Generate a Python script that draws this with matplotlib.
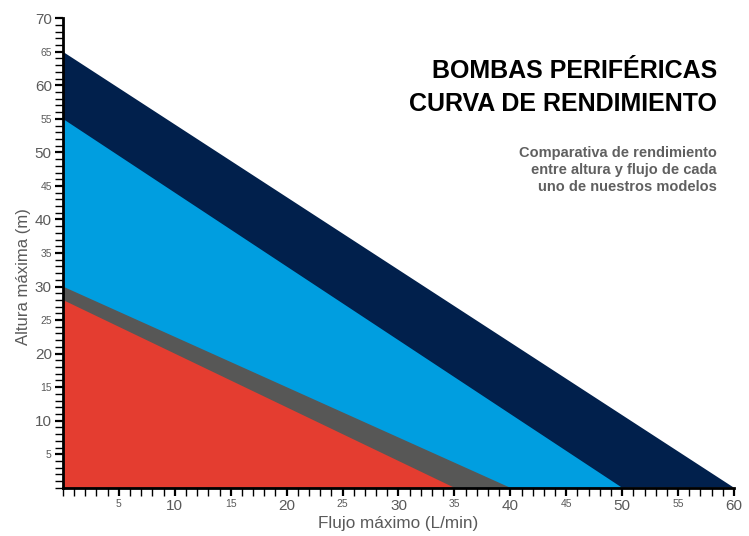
import matplotlib.pyplot as plt
from matplotlib.ticker import MultipleLocator

# Max flow (L/min) and max head (m) of each pump model, largest first
models = ["Modelo 4", "Modelo 3", "Modelo 2", "Modelo 1"]
max_flow = [60, 50, 40, 35]
max_head = [65, 55, 30, 28]
colors = ["#01204c", "#009ee0", "#575756", "#e43d30"]

x_ticks = list(range(5, 61, 5))
y_ticks = list(range(5, 71, 5))

plt.rcParams['font.family'] = ['Liberation Sans', 'DejaVu Sans']

fig = plt.figure(figsize=(7.49, 5.36), dpi=100)
ax = fig.add_axes([0.084, 0.09, 0.896, 0.876])

for flow, head, col in zip(max_flow, max_head, colors):
    ax.fill([0, flow, 0], [head, 0, 0], color=col, linewidth=0)

ax.set_xlim(0, 60)
ax.set_ylim(0, 70)

for side in ("top", "right"):
    ax.spines[side].set_visible(False)
for side in ("left", "bottom"):
    ax.spines[side].set_linewidth(2)
    ax.spines[side].set_color("black")

ax.set_xticks(x_ticks)
ax.set_yticks(y_ticks)
ax.xaxis.set_minor_locator(MultipleLocator(1))
ax.yaxis.set_minor_locator(MultipleLocator(1))
ax.tick_params(which="major", length=6, width=1.6, color="black",
               labelcolor="#5a5a5a", labelsize=11, pad=2)
ax.tick_params(which="minor", length=5.5, width=1, color="black")

# the in-between fives get a smaller label
for lbl, v in zip(ax.get_xticklabels(), x_ticks):
    if v % 10:
        lbl.set_fontsize(7.5)
for lbl, v in zip(ax.get_yticklabels(), y_ticks):
    if v % 10:
        lbl.set_fontsize(7.5)

ax.set_xlabel("Flujo máximo (L/min)", fontsize=12.3, color="#5a5a5a", labelpad=2)
ax.set_ylabel("Altura máxima (m)", fontsize=12, color="#5a5a5a")
ax.yaxis.set_label_coords(-0.048, 0.45)

fig.text(0.957, 0.868, "BOMBAS PERIFÉRICAS", ha="right", va="center",
         fontsize=18, fontweight="bold", color="black")
fig.text(0.957, 0.806, "CURVA DE RENDIMIENTO", ha="right", va="center",
         fontsize=18, fontweight="bold", color="black")
fig.text(0.957, 0.683, "Comparativa de rendimiento\nentre altura y flujo de cada\nuno de nuestros modelos",
         ha="right", va="center", fontsize=10.5, fontweight="bold",
         color="#606060", linespacing=1.25, multialignment="right")

fig.savefig("out.png", dpi=100)
